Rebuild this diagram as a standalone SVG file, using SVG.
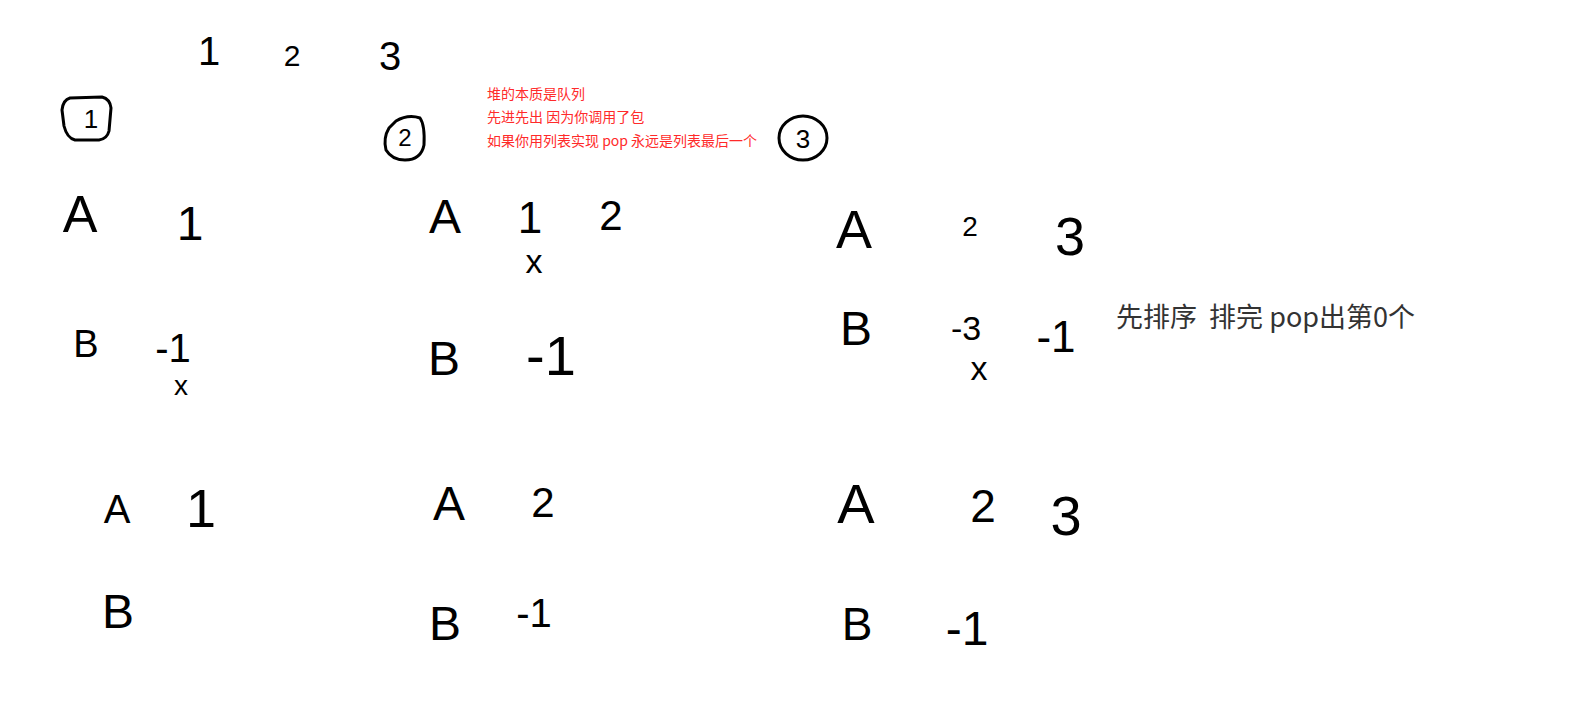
<svg xmlns="http://www.w3.org/2000/svg" width="1572" height="706" viewBox="0 0 1572 706">
<style>
.h{font-family:"Liberation Sans","DejaVu Sans",sans-serif;fill:#000;text-anchor:middle}
.ring{fill:none;stroke:#000;stroke-width:3;stroke-linecap:round;stroke-linejoin:round}
.note{font-family:"Noto Sans CJK SC","Noto Sans",sans-serif;font-size:14px;fill:#ff2a2a}
.big{font-family:"Noto Sans CJK SC","Noto Sans",sans-serif;font-size:27px;fill:#333;white-space:pre}
</style>
<rect width="1572" height="706" fill="#fff"/>
<g id="header">
<text class="h" x="209" y="65" font-size="40">1</text>
<text class="h" x="292" y="66" font-size="30">2</text>
<text class="h" x="390" y="70" font-size="40">3</text>
</g>
<g id="step1-label">
<path class="ring" d="M70,98 L102,97 Q110,99 111,108 L109,131 Q107,139 99,140 L75,140 Q67,138 64,126 L62,110 Q63,100 70,98 Z"/>
<text class="h" x="91" y="128" font-size="26">1</text>
</g>
<g id="step2-label">
<path class="ring" d="M396,121 Q408,114 420,118 Q425,125 424,145 Q421,160 405,160 Q392,160 386,150 Q383,138 389,128 Z"/>
<text class="h" x="405" y="146" font-size="24">2</text>
</g>
<g id="step3-label">
<ellipse class="ring" cx="803" cy="138" rx="24" ry="22"/>
<text class="h" x="803" y="148" font-size="26">3</text>
</g>
<g id="note-red">
<text class="note" x="487" y="99">堆的本质是队列</text>
<text class="note" x="487" y="122">先进先出 因为你调用了包</text>
<text class="note" x="487" y="146">如果你用列表实现 pop 永远是列表最后一个</text>
</g>
<g id="note-black">
<text class="big" x="1116" y="327" xml:space="preserve">先排序  排完 pop出第0个</text>
</g>
<g id="state1-top">
<text class="h" x="80" y="232" font-size="52">A</text>
<text class="h" x="190" y="240" font-size="48">1</text>
<text class="h" x="86" y="357" font-size="38">B</text>
<text class="h" x="173" y="362" font-size="40">-1</text>
<text class="h" x="181" y="395" font-size="28">x</text>
</g>
<g id="state2-top">
<text class="h" x="445" y="233" font-size="48">A</text>
<text class="h" x="530" y="233" font-size="44">1</text>
<text class="h" x="611" y="230" font-size="42">2</text>
<text class="h" x="534" y="273" font-size="34">x</text>
<text class="h" x="444" y="375" font-size="48">B</text>
<text class="h" x="551" y="375" font-size="56">-1</text>
</g>
<g id="state3-top">
<text class="h" x="854" y="248" font-size="54">A</text>
<text class="h" x="970" y="236" font-size="28">2</text>
<text class="h" x="1070" y="255" font-size="54">3</text>
<text class="h" x="856" y="345" font-size="48">B</text>
<text class="h" x="966" y="340" font-size="34">-3</text>
<text class="h" x="1056" y="352" font-size="44">-1</text>
<text class="h" x="979" y="380" font-size="34">x</text>
</g>
<g id="state1-bottom">
<text class="h" x="117" y="523" font-size="40">A</text>
<text class="h" x="201" y="527" font-size="54">1</text>
<text class="h" x="118" y="628" font-size="48">B</text>
</g>
<g id="state2-bottom">
<text class="h" x="449" y="520" font-size="48">A</text>
<text class="h" x="543" y="517" font-size="42">2</text>
<text class="h" x="445" y="640" font-size="48">B</text>
<text class="h" x="534" y="627" font-size="40">-1</text>
</g>
<g id="state3-bottom">
<text class="h" x="856" y="523" font-size="56">A</text>
<text class="h" x="983" y="522" font-size="46">2</text>
<text class="h" x="1066" y="535" font-size="56">3</text>
<text class="h" x="857" y="640" font-size="46">B</text>
<text class="h" x="967" y="645" font-size="48">-1</text>
</g>
<g id="connectors"></g>
</svg>
